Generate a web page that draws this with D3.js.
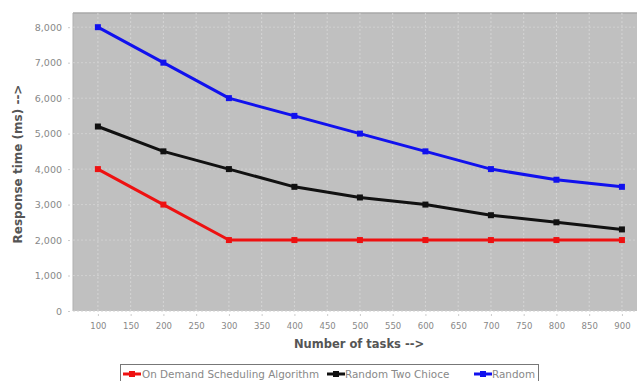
<!DOCTYPE html>
<html><head><meta charset="utf-8">
<script src="https://cdn.jsdelivr.net/npm/d3@7"></script>
<style>body{margin:0;background:#fff;}svg{display:block;font-family:"DejaVu Sans",sans-serif;}</style>
</head><body>
<svg id="c" width="637" height="381"></svg>
<script>
const tasks = [100,200,300,400,500,600,700,800,900];
const onDemand = [4000,3000,2000,2000,2000,2000,2000,2000,2000];
const randomTwo = [5200,4500,4000,3500,3200,3000,2700,2500,2300];
const randomOnly = [8000,7000,6000,5500,5000,4500,4000,3700,3500];
const xTicks = [100,150,200,250,300,350,400,450,500,550,600,650,700,750,800,850,900];
const yTicks = [0,1000,2000,3000,4000,5000,6000,7000,8000];
const seriesNames = ["On Demand Scheduling Algorithm","Random Two Chioce","Random"];
const seriesColors = ["#ee1111","#111111","#1111ee"];
const seriesData = [onDemand, randomTwo, randomOnly];

const svg = d3.select("#c");
const L=73, R=637, T=13, B=311;
const x = d3.scaleLinear().domain([62,923]).range([L,R]);
const y = d3.scaleLinear().domain([0,8400]).range([B,T]);

svg.append("rect").attr("x",L).attr("y",T).attr("width",R-L).attr("height",B-T).attr("fill","#c0c0c0");
svg.append("line").attr("x1",L).attr("x2",R).attr("y1",T).attr("y2",T).attr("stroke","#a8a8a8").attr("stroke-width",1.5);
svg.append("line").attr("x1",L).attr("x2",L).attr("y1",T).attr("y2",B).attr("stroke","#b0b0b0");
// gridlines
svg.append("g").selectAll("line").data(xTicks).join("line")
  .attr("x1",d=>x(d)).attr("x2",d=>x(d)).attr("y1",T).attr("y2",B)
  .attr("stroke","#d4d4d4").attr("stroke-width",1).attr("stroke-dasharray","2,2");
svg.append("g").selectAll("line").data(yTicks).join("line")
  .attr("x1",L).attr("x2",R).attr("y1",d=>y(d)).attr("y2",d=>y(d))
  .attr("stroke","#d0d0d0").attr("stroke-width",1).attr("stroke-dasharray","2,2");

// axes
const fmt = d3.format(",");
const yAxis = svg.append("g").attr("transform",`translate(${L-3},0)`)
  .call(d3.axisLeft(y).tickValues(yTicks).tickFormat(fmt).tickSize(2).tickPadding(6));
const xAxis = svg.append("g").attr("transform",`translate(0,${B+3})`)
  .call(d3.axisBottom(x).tickValues(xTicks).tickSize(2).tickPadding(7));
[yAxis,xAxis].forEach(a=>{
  a.select(".domain").remove();
  a.selectAll(".tick line").attr("stroke","#ccc");
  a.selectAll("text").attr("fill","#888").style("font-family","'DejaVu Sans',sans-serif");
});
yAxis.selectAll("text").style("font-size","9.5px");
xAxis.selectAll("text").style("font-size","8.5px");

// lines
const line = d3.line().x((d,i)=>x(tasks[i])).y(d=>y(d));
seriesData.forEach((s,k)=>{
  svg.append("path").datum(s).attr("d",line).attr("fill","none")
    .attr("stroke",seriesColors[k]).attr("stroke-width",3).attr("stroke-linejoin","round");
  svg.append("g").selectAll("rect").data(s).join("rect")
    .attr("x",(d,i)=>x(tasks[i])-3).attr("y",d=>y(d)-3).attr("width",6).attr("height",6)
    .attr("fill",seriesColors[k]);
});

// axis titles
svg.append("text").attr("transform",`translate(22,${164}) rotate(-90)`)
  .attr("text-anchor","middle").attr("fill","#555").style("font-size","12px").style("font-weight","bold")
  .text("Response time (ms) -->");
svg.append("text").attr("x",359).attr("y",348).attr("text-anchor","middle")
  .attr("fill","#555").style("font-size","11.5px").style("font-weight","bold").text("Number of tasks -->");

// legend
const lg = svg.append("g");
lg.append("rect").attr("x",120.5).attr("y",364.5).attr("width",418).attr("height",17)
  .attr("fill","#fff").attr("stroke","#777");
const items = [{x:123,tx:142},{x:327,tx:345},{x:474,tx:492}];
items.forEach((it,k)=>{
  lg.append("line").attr("x1",it.x).attr("x2",it.x+18).attr("y1",374).attr("y2",374)
    .attr("stroke",seriesColors[k]).attr("stroke-width",3);
  lg.append("rect").attr("x",it.x+6).attr("y",371).attr("width",6).attr("height",6).attr("fill",seriesColors[k]);
  lg.append("text").attr("x",it.tx).attr("y",378).attr("fill","#888").style("font-size","10.4px")
    .text(seriesNames[k]);
});
</script>
</body></html>
